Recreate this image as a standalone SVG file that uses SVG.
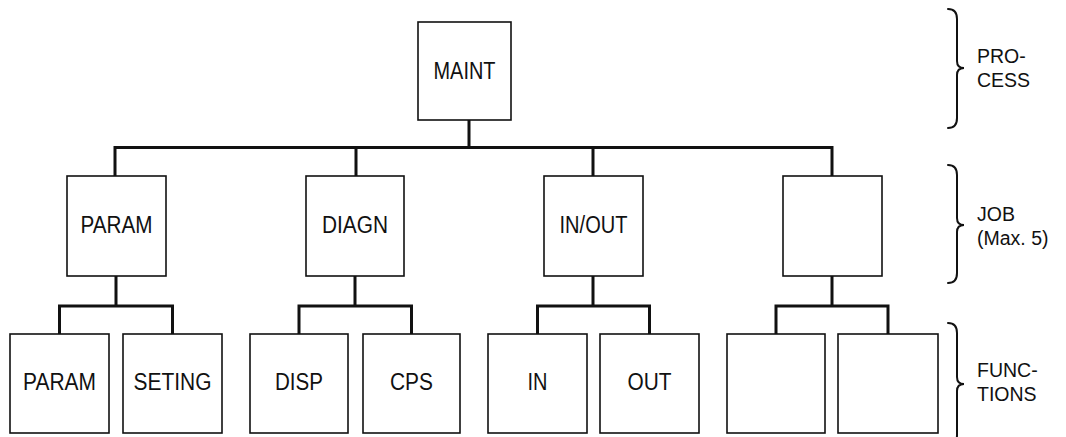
<svg xmlns="http://www.w3.org/2000/svg" width="1066" height="437" viewBox="0 0 1066 437">
<style>
.box{fill:#fff;stroke:#111;stroke-width:1.6}
.t{font-family:"Liberation Sans",Arial,Helvetica,sans-serif;font-size:23px;fill:#111;text-anchor:middle}
.lbl{font-family:"Liberation Sans",Arial,Helvetica,sans-serif;font-size:19.5px;fill:#111}
.con{fill:none;stroke:#111;stroke-width:3;stroke-linejoin:miter;stroke-linecap:square}
.brace{fill:none;stroke:#111;stroke-width:2;stroke-linecap:round}
</style>
<rect width="1066" height="437" fill="#fff"/>
<g id="connectors">
<path class="con" d="M469,120 V147.5 M115,176 V147.5 H832 V176 M356,147.5 V176 M593,147.5 V176"/>
<path class="con" d="M116,276 V306 M59.5,334 V306 H172.5 V334"/>
<path class="con" d="M355,276 V306 M299,334 V306 H411.5 V334"/>
<path class="con" d="M593,276 V306 M537.5,334 V306 H649.5 V334"/>
<path class="con" d="M832,276 V306 M776,334 V306 H888 V334"/>
</g>
<g id="maint"><rect class="box" x="418" y="22" width="93" height="98"/><text class="t" x="464.5" y="79" textLength="62" lengthAdjust="spacingAndGlyphs">MAINT</text></g>
<g id="job-param"><rect class="box" x="67" y="176" width="99" height="100"/><text class="t" x="116.5" y="233" textLength="72" lengthAdjust="spacingAndGlyphs">PARAM</text></g>
<g id="job-diagn"><rect class="box" x="306" y="176" width="98" height="100"/><text class="t" x="355" y="233" textLength="66" lengthAdjust="spacingAndGlyphs">DIAGN</text></g>
<g id="job-inout"><rect class="box" x="544" y="176" width="99" height="100"/><text class="t" x="593.5" y="233" textLength="68" lengthAdjust="spacingAndGlyphs">IN/OUT</text></g>
<g id="job-empty"><rect class="box" x="783" y="176" width="99" height="100"/></g>
<g id="fn-param"><rect class="box" x="10" y="334" width="99" height="99"/><text class="t" x="59.5" y="390" textLength="73" lengthAdjust="spacingAndGlyphs">PARAM</text></g>
<g id="fn-seting"><rect class="box" x="123" y="334" width="99" height="99"/><text class="t" x="172.5" y="390" textLength="78" lengthAdjust="spacingAndGlyphs">SETING</text></g>
<g id="fn-disp"><rect class="box" x="250" y="334" width="98" height="99"/><text class="t" x="299" y="390" textLength="48" lengthAdjust="spacingAndGlyphs">DISP</text></g>
<g id="fn-cps"><rect class="box" x="363" y="334" width="97" height="99"/><text class="t" x="411.5" y="390" textLength="43" lengthAdjust="spacingAndGlyphs">CPS</text></g>
<g id="fn-in"><rect class="box" x="488" y="334" width="99" height="99"/><text class="t" x="537.5" y="390" textLength="20" lengthAdjust="spacingAndGlyphs">IN</text></g>
<g id="fn-out"><rect class="box" x="600" y="334" width="99" height="99"/><text class="t" x="649.5" y="390" textLength="44" lengthAdjust="spacingAndGlyphs">OUT</text></g>
<g id="fn-empty1"><rect class="box" x="727" y="334" width="98" height="99"/></g>
<g id="fn-empty2"><rect class="box" x="838" y="334" width="100" height="99"/></g>
<g id="level-process">
<path class="brace" d="M948,9 Q957,9 957,19 L957,61 Q957,68 964,68 Q957,68 957,75 L957,118 Q957,128 948,128"/>
<text class="lbl" x="977" y="63">PRO-</text><text class="lbl" x="977" y="87">CESS</text>
</g>
<g id="level-job">
<path class="brace" d="M948,165 Q957,165 957,175 L957,218 Q957,225 964,225 Q957,225 957,232 L957,273 Q957,283 948,283"/>
<text class="lbl" x="977" y="221">JOB</text><text class="lbl" x="977" y="245">(Max. 5)</text>
</g>
<g id="level-functions">
<path class="brace" d="M948,323 Q957,323 957,333 L957,377 Q957,384 964,384 Q957,384 957,391 L957,435 Q957,445 948,445"/>
<text class="lbl" x="977" y="377">FUNC-</text><text class="lbl" x="977" y="401">TIONS</text>
</g>
</svg>
